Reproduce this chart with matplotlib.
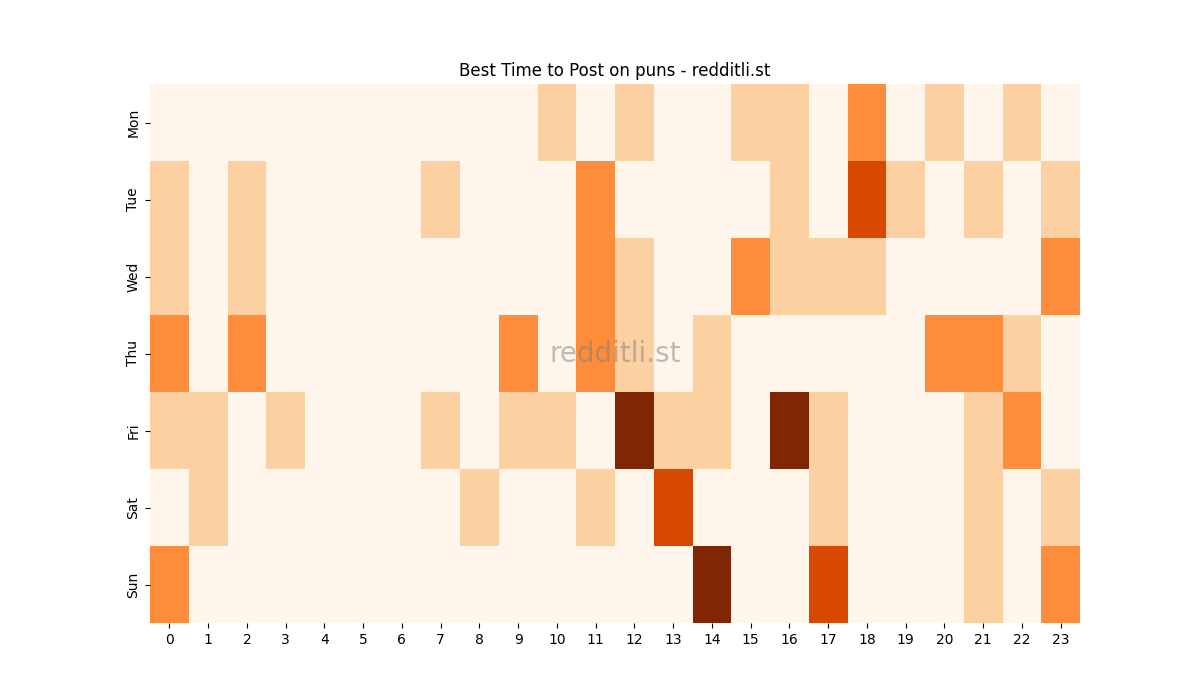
import matplotlib
matplotlib.use("Agg")
import matplotlib.pyplot as plt
import seaborn as sns
import numpy as np

days = ["Mon", "Tue", "Wed", "Thu", "Fri", "Sat", "Sun"]
hours = list(range(24))

mon = [0,0,0,0,0,0,0,0,0,0,1,0,1,0,0,1,1,0,2,0,1,0,1,0]
tue = [1,0,1,0,0,0,0,1,0,0,0,2,0,0,0,0,1,0,3,1,0,1,0,1]
wed = [1,0,1,0,0,0,0,0,0,0,0,2,1,0,0,2,1,1,1,0,0,0,0,2]
thu = [2,0,2,0,0,0,0,0,0,2,0,2,1,0,1,0,0,0,0,0,2,2,1,0]
fri = [1,1,0,1,0,0,0,1,0,1,1,0,4,1,1,0,4,1,0,0,0,1,2,0]
sat = [0,1,0,0,0,0,0,0,1,0,0,1,0,3,0,0,0,1,0,0,0,1,0,1]
sun = [2,0,0,0,0,0,0,0,0,0,0,0,0,0,4,0,0,3,0,0,0,1,0,2]

data = np.array([mon, tue, wed, thu, fri, sat, sun])

fig, ax = plt.subplots(figsize=(12, 7), dpi=100)
sns.heatmap(data, cmap="Oranges", cbar=False, ax=ax,
            xticklabels=hours, yticklabels=days, vmin=0, vmax=4)
ax.set_title("Best Time to Post on puns - redditli.st")
ax.text(0.5, 0.5, "redditli.st", transform=ax.transAxes, fontsize=20,
        color="gray", alpha=0.5, ha="center", va="center")
fig.savefig("out.png")
